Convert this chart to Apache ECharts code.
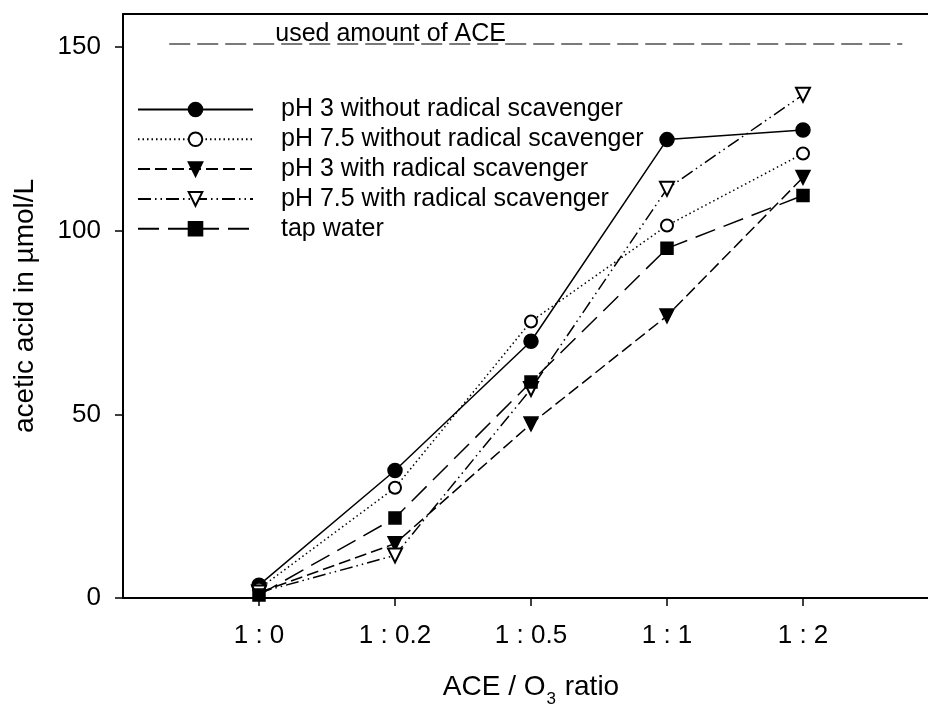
<!DOCTYPE html>
<html>
<head>
<meta charset="utf-8">
<script src="https://cdn.jsdelivr.net/npm/echarts@6/dist/echarts.min.js"></script>
<style>
  html, body { margin: 0; padding: 0; background: #fff; overflow: hidden; width: 928px; height: 704px; }
  /* the plot frame runs past the right edge of the page, so the canvas is a bit wider */
  #chart { width: 940px; height: 704px; }
</style>
</head>
<body>
<div id="chart"></div>
<script>
// ACE : O3 ratios on the x axis (placed at positions 1..5)
const ratios = ['1 : 0', '1 : 0.2', '1 : 0.5', '1 : 1', '1 : 2'];

// acetic acid formed, µmol/L
const ph3NoScavenger  = [3.5, 34.7, 69.9, 124.8, 127.4];
const ph75NoScavenger = [2.5, 30.0, 75.3, 101.4, 121.0];
const ph3Scavenger    = [1.5, 14.8, 47.4, 76.8, 114.5];
const ph75Scavenger   = [1.5, 11.6, 56.9, 111.4, 137.0];
const tapWater        = [0.8, 21.8, 58.8, 95.2, 109.6];

// amount of ACE dosed, drawn as a reference line
const usedAce = 151;
const usedAceSpan = [0.34, 5.73];

const yTicks = [0, 50, 100, 150];

const FONT = '"Liberation Sans", Arial, Helvetica, sans-serif';

function pairs(values) {
  return values.map((v, i) => [i + 1, v]);
}

const seriesDefs = [
  { name: 'pH 3 without radical scavenger', values: ph3NoScavenger,
    symbol: 'circle', size: 14, rotate: 0, dash: 'solid' },
  { name: 'pH 7.5 without radical scavenger', values: ph75NoScavenger,
    symbol: 'emptyCircle', size: 12, rotate: 0, dash: [1.5, 3] },
  { name: 'pH 3 with radical scavenger', values: ph3Scavenger,
    symbol: 'triangle', size: 14, rotate: 180, dash: [12, 5] },
  { name: 'pH 7.5 with radical scavenger', values: ph75Scavenger,
    symbol: 'emptyTriangle', size: 14, rotate: 180, dash: [13, 4, 1.5, 4, 1.5, 4] },
  { name: 'tap water', values: tapWater,
    symbol: 'rect', size: 12, rotate: 0, dash: [21, 9] }
];

const series = seriesDefs.map(d => ({
  name: d.name,
  type: 'line',
  data: pairs(d.values),
  symbol: d.symbol,
  symbolSize: d.size,
  symbolRotate: d.rotate,
  showAllSymbol: true,
  animation: false,
  lineStyle: { color: '#000', width: 1.5, type: d.dash },
  itemStyle: { color: '#000', borderColor: '#000', borderWidth: 1.5 },
  emphasis: { disabled: true }
}));

series.push({
  name: 'used',
  type: 'line',
  data: [],
  animation: false,
  markLine: {
    silent: true,
    symbol: 'none',
    animation: false,
    lineStyle: { color: '#7a7a7a', width: 2, type: [21, 7] },
    label: {
      show: true,
      position: 'insideStartTop',
      formatter: 'used amount of ACE',
      color: '#000',
      fontFamily: FONT,
      fontSize: 25,
      distance: -3,
      padding: [0, 0, 0, 109]
    },
    data: [[{ coord: [usedAceSpan[0], usedAce] }, { coord: [usedAceSpan[1], usedAce] }]]
  }
});

const chart = echarts.init(document.getElementById('chart'), null, { renderer: 'canvas' });

const plainAxisLine = { lineStyle: { color: '#000', width: 2 } };

chart.setOption({
  backgroundColor: '#fff',
  animation: false,
  textStyle: { fontFamily: FONT },
  grid: {
    left: 123, right: 1, top: 14, bottom: 106,
    outerBoundsMode: 'none',
    containLabel: false,
    show: false
  },
  legend: {
    data: seriesDefs.map(d => d.name),
    orient: 'vertical',
    left: 132,
    top: 92,
    itemWidth: 115,
    itemHeight: 17,
    itemGap: 4.8,
    selectedMode: false,
    textStyle: { color: '#000', fontSize: 25, fontFamily: FONT, padding: [0, 0, 0, 23] }
  },
  xAxis: [{
    type: 'value',
    min: 0, max: 6, interval: 1,
    name: 'ACE / O{sub|3} ratio',
    nameLocation: 'middle',
    nameGap: 69.5,
    nameTextStyle: {
      color: '#000', fontSize: 28, fontFamily: FONT,
      rich: { sub: { fontSize: 17, fontFamily: FONT, color: '#000', verticalAlign: 'bottom', padding: [23, 1, 0, 1] } }
    },
    axisLine: plainAxisLine,
    axisTick: { show: true, inside: false, length: 8, lineStyle: { color: '#000', width: 1.5 },
      customValues: [1, 2, 3, 4, 5] },
    axisLabel: {
      color: '#000', fontSize: 26, fontFamily: FONT, margin: 25,
      customValues: [1, 2, 3, 4, 5],
      formatter: v => ratios[Math.round(v) - 1] || ''
    },
    splitLine: { show: false }
  }, {
    // top edge of the frame
    type: 'value',
    position: 'top',
    min: 0, max: 6,
    axisLine: { show: true, onZero: false, lineStyle: { color: '#000', width: 2 } },
    axisTick: { show: false },
    axisLabel: { show: false },
    splitLine: { show: false }
  }],
  yAxis: {
    type: 'value',
    min: 0, max: 159, interval: 50,
    name: 'acetic acid in µmol/L',
    nameLocation: 'middle',
    nameGap: 84,
    nameTextStyle: { color: '#000', fontSize: 28, fontFamily: FONT },
    axisLine: plainAxisLine,
    axisTick: { show: true, inside: false, length: 8, lineStyle: { color: '#000', width: 1.5 },
      customValues: yTicks },
    axisLabel: { color: '#000', fontSize: 26, fontFamily: FONT, margin: 22, customValues: yTicks },
    splitLine: { show: false }
  },
  series: series
});
</script>
</body>
</html>
